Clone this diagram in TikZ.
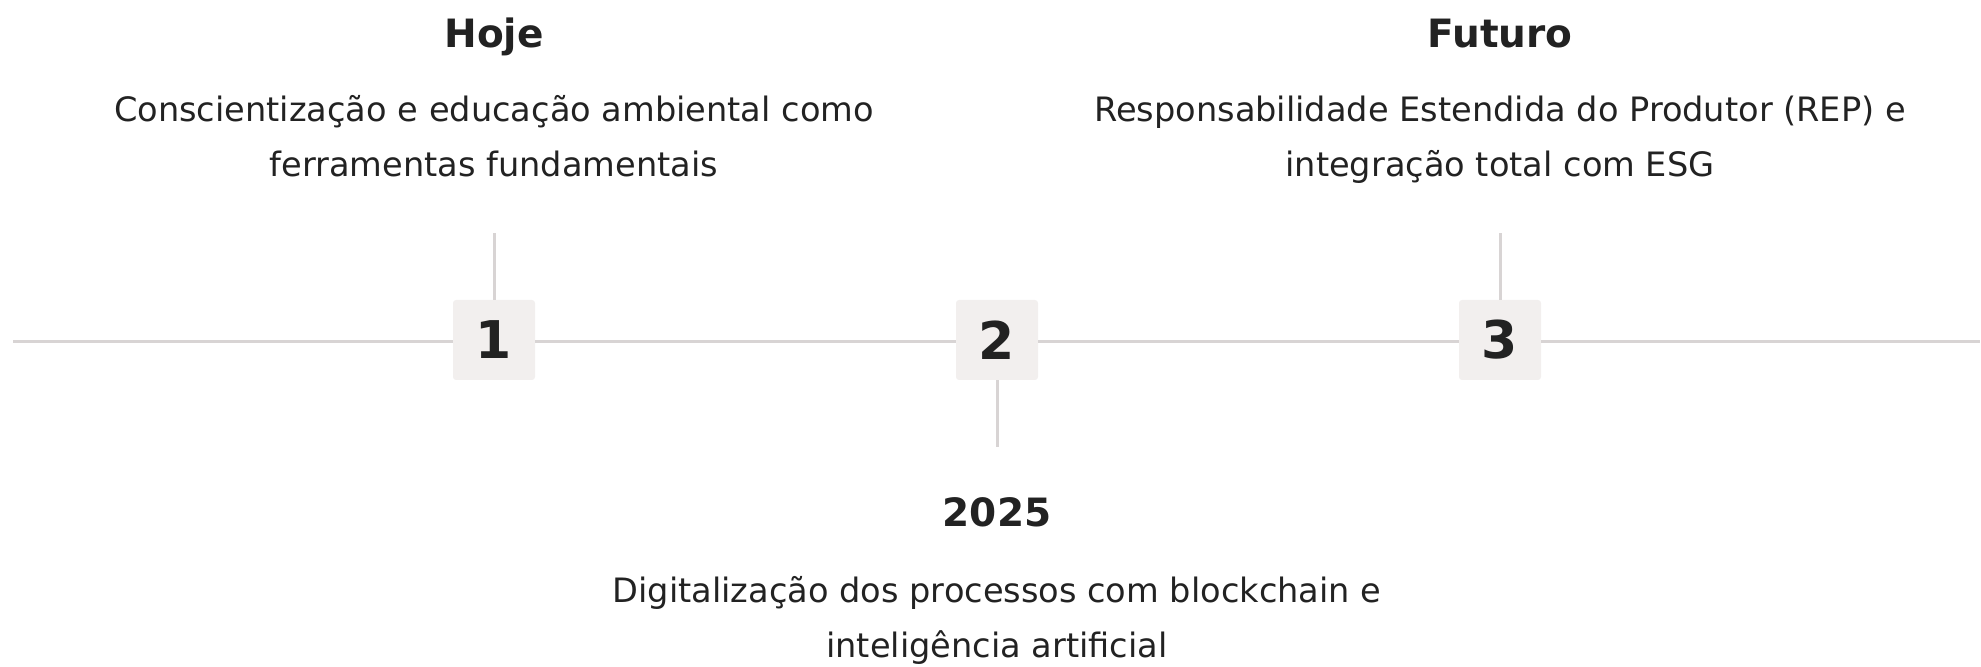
\documentclass[tikz,border=0pt]{standalone}
\usepackage{fontspec}
\setmainfont{DejaVu Sans}
\usetikzlibrary{positioning}
\definecolor{linegray}{HTML}{D8D4D4}
\definecolor{boxfill}{HTML}{F2EFEE}
\definecolor{ink}{HTML}{222222}
\tikzset{
  numbox/.style={fill=boxfill, rounded corners=1.5pt, minimum width=41pt, minimum height=40pt, inner sep=0pt, font=\fontsize{26}{30}\selectfont\bfseries, text=ink},
  title/.style={anchor=base, font=\fontsize{19.5}{24}\selectfont\bfseries, text=ink},
  desc/.style={font=\fontsize{16.8}{27.8}\selectfont, text=ink, align=center},
  rail/.style={draw=linegray, line width=1.5pt}
}
\begin{document}
\begin{tikzpicture}[x=0.5pt, y=-0.5pt]
\useasboundingbox (0,0) rectangle (1981,667);
\node[numbox] (n1) at (494,340) {1};
\node[numbox] (n2) at (997,340) {2};
\node[numbox] (n3) at (1500,340) {3};
\coordinate (start) at (13,342);
\coordinate (end) at (1980,342);
\coordinate (t1) at (494,233);
\coordinate (t2) at (997,447);
\coordinate (t3) at (1500,233);
\draw[rail] (start) -- (n1.west |- start) (n1.east |- start) -- (n2.west |- start) (n2.east |- start) -- (n3.west |- start) (n3.east |- start) -- (end);
\draw[rail] (n1.north) -- (t1) (n2.south) -- (t2) (n3.north) -- (t3);
% textos
\node[title] (h1) at (494,48) {Hoje};
\node[desc] (d1) at (494,138) {\strut Conscientização e educação ambiental como\\\strut ferramentas fundamentais};
\node[title] (h3) at (1500,48) {Futuro};
\node[desc] (d3) at (1500,138) {\strut Responsabilidade Estendida do Produtor (REP) e\\\strut integração total com ESG};
\node[title] (h2) at (997,527) {2025};
\node[desc] (d2) at (997,619) {\strut Digitalização dos processos com blockchain e\\\strut inteligência artificial};
\end{tikzpicture}
\end{document}
